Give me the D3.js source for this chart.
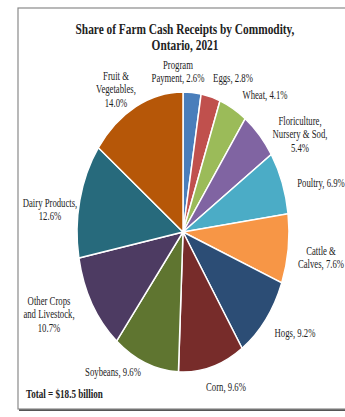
<!DOCTYPE html>
<html>
<head>
<meta charset="utf-8">
<script src="https://cdn.jsdelivr.net/npm/d3@7"></script>
<style>
  html, body { margin: 0; padding: 0; background: #fff; }
  svg { display: block; }
  text { font-family: "Liberation Serif", "Times New Roman", serif; fill: #222; }
</style>
</head>
<body>
<div id="chart"></div>
<script>
// ---- data ----
const categories = ["Program Payment", "Eggs", "Wheat", "Floriculture, Nursery & Sod", "Poultry",
  "Cattle & Calves", "Hogs", "Corn", "Soybeans", "Other Crops and Livestock", "Dairy Products", "Fruit & Vegetables"];
const shares = [2.6, 2.8, 4.1, 5.4, 6.9, 7.6, 9.2, 9.6, 9.6, 10.7, 12.6, 14.0];
const labelLines = [
  ["Program", "Payment, 2.6%"],
  ["Eggs, 2.8%"],
  ["Wheat, 4.1%"],
  ["Floriculture,", "Nursery & Sod,", "5.4%"],
  ["Poultry, 6.9%"],
  ["Cattle &", "Calves, 7.6%"],
  ["Hogs, 9.2%"],
  ["Corn, 9.6%"],
  ["Soybeans, 9.6%"],
  ["Other Crops", "and Livestock,", "10.7%"],
  ["Dairy Products,", "12.6%"],
  ["Fruit &", "Vegetables,", "14.0%"]
];
const colors = ["#4A7EBB", "#C0504D", "#9BBB59", "#8064A2", "#4BACC6", "#F79646",
  "#2C4D75", "#772C2A", "#5F7530", "#4D3B62", "#276A7C", "#B65708"];
const titleLines = ["Share of Farm Cash Receipts by Commodity,", "Ontario, 2021"];
const totalNote = "Total = $18.5 billion";

// ---- layout ----
const W = 345, H = 417;
const cx = 183, cy = 232, R = 140, sx = 0.757;
// label anchor positions (first-line baseline) in screen coords
const labelPos = [
  [178, 69], [233, 82], [265, 99], [300, 125], [321, 187], [321, 255],
  [295, 337], [226, 391], [113, 376], [49, 305], [50, 207], [116, 80]
];
const lineH = 13.5;

const svg = d3.select("#chart").append("svg").attr("width", W).attr("height", H);

// frame with shadow
svg.append("rect").attr("x", 19).attr("y", 10).attr("width", 340).attr("height", 401)
  .attr("fill", "#555");
svg.append("rect").attr("x", 18).attr("y", 8).attr("width", 340).attr("height", 401)
  .attr("fill", "#fff").attr("stroke", "#8a8a8a").attr("stroke-width", 1.2);

// title
svg.selectAll("text.title").data(titleLines).join("text")
  .attr("class", "title")
  .attr("transform", (d, i) => `translate(185,${34 + i * 15.5}) scale(${sx},1)`)
  .attr("text-anchor", "middle")
  .attr("font-size", 15).attr("font-weight", "bold")
  .text(d => d);

// pie
const pie = d3.pie().sort(null).value(d => d)(shares);
const arc = d3.arc().innerRadius(0).outerRadius(R);
const g = svg.append("g").attr("transform", `translate(${cx},${cy}) scale(${sx},1)`);
g.selectAll("path").data(pie).join("path")
  .attr("d", arc)
  .attr("fill", (d, i) => colors[i])
  .attr("stroke", "#fff")
  .attr("stroke-width", 1.5)
  .attr("vector-effect", "non-scaling-stroke");

// labels
categories.forEach((c, i) => {
  const [x, y] = labelPos[i];
  const t = svg.append("text")
    .attr("transform", `translate(${x},${y}) scale(${sx},1)`)
    .attr("text-anchor", "middle")
    .attr("font-size", 11.5);
  labelLines[i].forEach((ln, j) => {
    t.append("tspan").attr("x", 0).attr("y", j * lineH).text(ln);
  });
});

// total
svg.append("text")
  .attr("transform", `translate(26,398) scale(${sx},1)`)
  .attr("font-size", 12).attr("font-weight", "bold")
  .text(totalNote);
</script>
</body>
</html>
